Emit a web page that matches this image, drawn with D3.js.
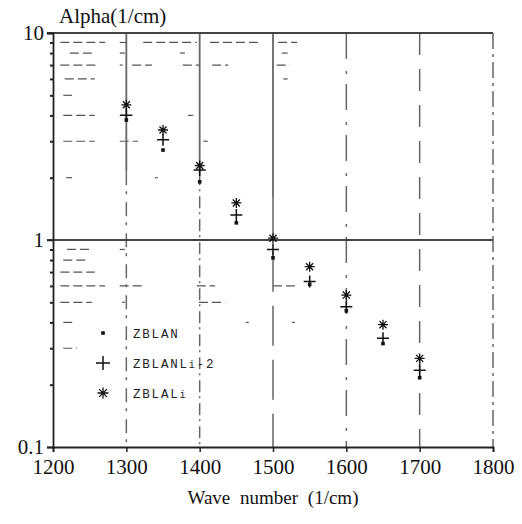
<!DOCTYPE html>
<html><head><meta charset="utf-8">
<script src="https://cdn.jsdelivr.net/npm/d3@7"></script>
<style>body{margin:0;background:#fff}svg{display:block}</style>
</head><body>
<script>
// ---- data ----
const waves = [1300, 1350, 1400, 1450, 1500, 1550, 1600, 1650, 1700];
const zblan = [3.8, 2.72, 1.91, 1.21, 0.82, 0.61, 0.455, 0.316, 0.216];
const zblanLi2 = [4.0, 3.05, 2.18, 1.32, 0.9, 0.63, 0.476, 0.335, 0.235];
const zblaLi = [4.5, 3.4, 2.29, 1.51, 1.02, 0.743, 0.542, 0.39, 0.268];
const xTicks = [1200, 1300, 1400, 1500, 1600, 1700, 1800];
const yMajor = [0.1, 1, 10];
const yMajorLabels = ["0.1", "1", "10"];
const yMinor = [0.2,0.3,0.4,0.5,0.6,0.7,0.8,0.9,2,3,4,5,6,7,8,9];
// fragments of dashed minor gridlines: [value, from wave, to wave]
const minorFragments = [
  [9,1210,1271],[9,1291,1301],[9,1323,1396],[9,1414,1480],[9,1507,1533],
  [8,1223,1253],[8,1291,1298],[8,1373,1380],[8,1512,1520],
  [7,1210,1260],[7,1291,1295],[7,1308,1335],[7,1377,1400],[7,1417,1439],[7,1505,1523],
  [6,1216,1257],[6,1514,1520],
  [5,1214,1226],
  [4,1214,1257],[4,1291,1295],[4,1384,1391],
  [3,1214,1257],[3,1291,1316],[3,1405,1411],
  [2,1218,1226],[2,1339,1343],
  [0.9,1219,1253],[0.9,1291,1298],
  [0.8,1214,1244],
  [0.7,1210,1257],
  [0.6,1210,1271],[0.6,1291,1321],[0.6,1396,1421],[0.6,1500,1533],
  [0.5,1210,1253],[0.5,1294,1298],[0.5,1399,1435],
  [0.4,1214,1230],[0.4,1463,1467],[0.4,1526,1530],
  [0.3,1214,1233]
];
// vertical grid: [wave, solid down to value, dash pattern below]
const vGrid = [
  [1300, 2.15, "14,6,3,8"],
  [1400, 2.1, "12,4,2,5"],
  [1500, 1.6, "40,14"],
  [1600, 10, "26,12,3,10"],
  [1700, 10, "22,14"],
  [1800, 10, "16,5,3,5"]
];
const legendNames = ["ZBLAN", "ZBLANLi-2", "ZBLALi"];

// ---- layout ----
const W = 522, H = 524;
const SERIF = '"Liberation Serif"';
const MONO = '"Liberation Mono"';
const svg = d3.select("body").append("svg").attr("width", W).attr("height", H);
const x = d3.scaleLinear().domain([1200, 1800]).range([53, 493]);
const y = d3.scaleLog().domain([0.1, 10]).range([447, 33]);
const ink = "#222", grid = "#666";

// minor dashed fragments
svg.append("g").selectAll("line").data(minorFragments).join("line")
  .attr("x1", d => x(d[1])).attr("x2", d => x(d[2]))
  .attr("y1", d => y(d[0])).attr("y2", d => y(d[0]))
  .attr("stroke", "#555").attr("stroke-width", 1.2)
  .attr("stroke-dasharray", "9,4");

// vertical grid
const vg = svg.append("g");
vGrid.forEach(([w, solidTo, dash]) => {
  if (solidTo < 10) {
    vg.append("line").attr("x1", x(w)).attr("x2", x(w)).attr("y1", y(10)).attr("y2", y(solidTo))
      .attr("stroke", grid).attr("stroke-width", 1.8);
  }
  vg.append("line").attr("x1", x(w)).attr("x2", x(w)).attr("y1", y(solidTo)).attr("y2", y(0.1))
    .attr("stroke", grid).attr("stroke-width", 1.5).attr("stroke-dasharray", dash);
});

// horizontal line at 1 and top border
[1, 10].forEach(v => {
  svg.append("line").attr("x1", x(1200) - 6).attr("x2", x(1800)).attr("y1", y(v)).attr("y2", y(v))
    .attr("stroke", "#444").attr("stroke-width", 2);
});

// axes
const xAxis = d3.axisBottom(x).tickValues(xTicks).tickSize(5).tickFormat(d3.format("d"));
const gx = svg.append("g").attr("transform", `translate(0,${y(0.1)})`).call(xAxis);
gx.select(".domain").attr("stroke", ink).attr("stroke-width", 1.8);
gx.selectAll(".tick line").attr("stroke", ink).attr("stroke-width", 1.5);
gx.selectAll("text").style("font-family", SERIF).style("font-size", "21px").attr("fill", "#111").attr("dy", "0.9em");

const yAxis = d3.axisLeft(y).tickValues(yMajor).tickSize(6).tickFormat((d, i) => yMajorLabels[i]);
const gy = svg.append("g").attr("transform", `translate(${x(1200)},0)`).call(yAxis);
gy.select(".domain").attr("stroke", ink).attr("stroke-width", 1.8);
gy.selectAll(".tick line").attr("stroke", ink).attr("stroke-width", 1.5);
gy.selectAll("text").style("font-family", SERIF).style("font-size", "21px").attr("fill", "#111").attr("x", -9);

const yMinorAxis = d3.axisLeft(y).tickValues(yMinor).tickSize(3).tickFormat("");
const gym = svg.append("g").attr("transform", `translate(${x(1200)},0)`).call(yMinorAxis);
gym.select(".domain").remove();
gym.selectAll(".tick line").attr("stroke", ink).attr("stroke-width", 2);

// titles
svg.append("text").attr("x", 59).attr("y", 23).style("font-family", SERIF).style("font-size", "21px")
  .attr("fill", "#111").text("Alpha(1/cm)");
svg.append("text").attr("x", (x(1200) + x(1800)) / 2).attr("y", 504).attr("text-anchor", "middle")
  .style("font-family", SERIF).style("font-size", "19px").attr("fill", "#111")
  .style("word-spacing", "5px").text("Wave number (1/cm)");

// marker drawers
function dot(g, cx, cy) {
  g.append("rect").attr("x", cx - 1.8).attr("y", cy - 1.8).attr("width", 3.6).attr("height", 3.6).attr("fill", "#111");
}
function plus(g, cx, cy, r) {
  g.append("path").attr("d", `M${cx - r},${cy}H${cx + r}M${cx},${cy - r}V${cy + r}`)
    .attr("stroke", "#111").attr("stroke-width", 1.5).attr("fill", "none");
}
function star(g, cx, cy, r) {
  let d = "";
  for (let k = 0; k < 4; k++) {
    const a = Math.PI / 4 * k;
    d += `M${cx - r * Math.cos(a)},${cy - r * Math.sin(a)}L${cx + r * Math.cos(a)},${cy + r * Math.sin(a)}`;
  }
  g.append("path").attr("d", d).attr("stroke", "#111").attr("stroke-width", 1.3).attr("fill", "none");
}

const gm = svg.append("g");
waves.forEach((w, i) => {
  star(gm, x(w), y(zblaLi[i]), 5);
  plus(gm, x(w), y(zblanLi2[i]), 6);
  dot(gm, x(w), y(zblan[i]));
});

// legend
const lg = svg.append("g");
const ly = [333, 363, 393];
dot(lg, 103, ly[0]);
plus(lg, 103, ly[1], 7);
star(lg, 103, ly[2], 5.5);
legendNames.forEach((name, i) => {
  const t = lg.append("text").attr("x", 133).attr("y", ly[i] + 5)
    .style("font-family", MONO).style("font-size", "12.5px").style("letter-spacing", "1.8px").attr("fill", "#222");
  const m = name.match(/^(.*L)(i)(.*)$/);
  if (m && name !== "ZBLAN") {
    t.append("tspan").text(m[1]);
    t.append("tspan").style("font-size", "10px").text(m[2]);
    t.append("tspan").text(m[3]);
  } else {
    t.text(name);
  }
});
</script>
</body></html>
